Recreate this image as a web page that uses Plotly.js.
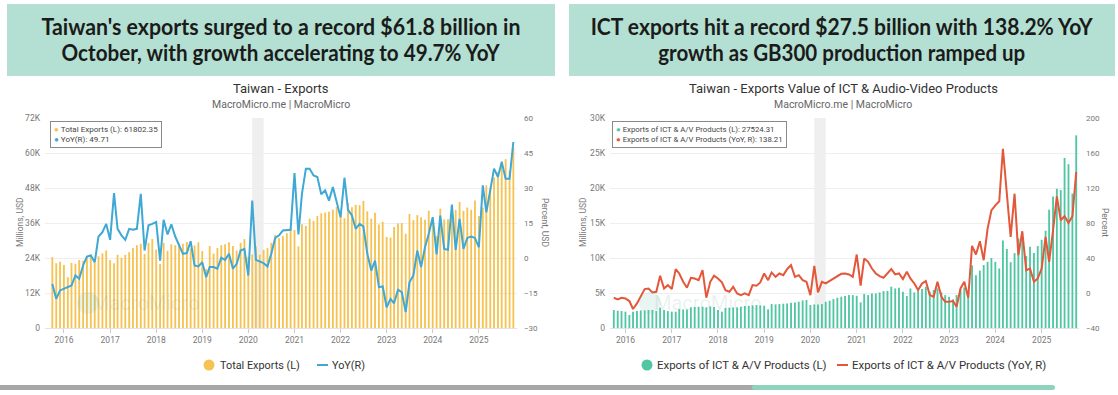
<!DOCTYPE html>
<html><head><meta charset="utf-8">
<script src="https://cdn.plot.ly/plotly-3.0.1.min.js"></script>
<style>
body{margin:0;width:1118px;height:395px;overflow:hidden;background:#fff;position:relative;font-family:Roboto,sans-serif}
.hdr{position:absolute;top:4px;height:72px;background:#b3e0d2}
.ln{position:absolute;left:0;right:0;text-align:center;font-family:Lato,sans-serif;font-weight:700;font-size:22px;line-height:26px;color:#1b1b1b;white-space:nowrap}
.ln span{display:inline-block;transform-origin:center center}
#c1{position:absolute;left:0;top:76px;width:560px;height:300px}
#c2{position:absolute;left:560px;top:76px;width:558px;height:300px}
.sb{position:absolute;top:385px;height:5px;border-radius:3px}
</style></head><body>
<div class="hdr" style="left:7px;width:548px">
  <div class="ln" style="top:10px"><span data-w="479">Taiwan's exports surged to a record $61.8 billion in</span></div>
  <div class="ln" style="top:36px"><span data-w="438">October, with growth accelerating to 49.7% YoY</span></div>
</div>
<div class="hdr" style="left:569px;width:546px">
  <div class="ln" style="top:10px"><span data-w="502">ICT exports hit a record $27.5 billion with 138.2% YoY</span></div>
  <div class="ln" style="top:36px"><span data-w="367">growth as GB300 production ramped up</span></div>
</div>
<div id="c1"></div>
<div id="c2"></div>
<div class="sb" style="left:0;width:760px;background:#a7a7a7;border-radius:0 3px 3px 0"></div>
<div class="sb" style="left:752px;width:303px;background:#8dd3be"></div>
<script>
// ---------- data ----------
const startYear = 2015, startMonth = 10, nMonths = 121;
const months = [];
for (let i = 0; i < nMonths; i++) {
  const t = startMonth - 1 + i;
  months.push((startYear + Math.floor(t / 12)) + '-' + String(t % 12 + 1).padStart(2, '0') + '-01');
}

const totalExports = [24300,22200,22700,
21600,17400,22300,22000,23300,23100,24400,25200,22700,24600,25600,26600,
23300,22200,25100,24100,25100,26000,27400,28400,28900,25400,29200,30500,
26900,22000,29200,26500,28700,28400,28900,28900,29500,27200,28300,29400,
26400,20200,28100,25500,27400,28400,28700,29400,28100,26500,29200,30500,
24400,25200,27900,25100,26800,27400,29200,31900,30800,31500,32500,34200,
33600,28000,35600,35000,37500,36700,38400,39300,39600,39900,40600,41500,
39500,37600,42900,41400,42200,42100,43600,40000,37500,39500,35500,36400,
31200,31000,34600,35800,36000,32300,39100,37000,38700,38000,37100,40200,
36700,31500,40900,37200,37300,39700,40500,43200,40200,41300,40500,43700,
38400,41300,48900,48000,51600,53500,57100,57900,53900,61802.35];

const totalYoY = [-11.1,-17.5,-13.9,
-13.2,-12.5,-11.8,-7.5,-8.9,-3.2,0.6,1.1,-1.8,9.2,11.1,14.6,
7.8,27.8,12.5,9.7,7.8,12.5,12.1,12.5,27.5,3.2,14.0,14.6,
15.4,-1.1,16.4,10.1,14.4,9.2,5.4,1.8,2.1,7.2,-3.2,-3.6,
-1.8,-8.2,-3.9,-3.9,-4.6,0.1,-0.8,1.8,-4.6,-2.5,3.2,3.9,
-7.5,24.6,-0.8,-1.4,-2.2,-3.6,1.8,8.6,9.7,11.8,11.8,12.1,
36.4,10.1,27.5,38.3,38.3,35.4,34.7,27.3,29.0,24.6,30.4,23.9,
17.5,34.4,20.6,18.2,12.5,14.6,13.5,1.8,-5.4,-1.1,-12.5,-12.2,
-21.1,-17.5,-19.4,-13.6,-14.6,-23.2,-10.4,-7.5,3.2,-3.9,4.6,10.4,
17.5,1.5,18.2,3.9,3.5,22.9,3.5,16.8,3.9,8.6,9.2,8.6,
4.6,31.1,19.6,29.0,38.3,34.7,41.1,34.0,34.0,49.71];

const ictExports = [2570,2470,2420,
2330,1850,2330,2420,2520,2520,2570,2570,2420,2900,2570,2420,
2330,2330,2700,2650,2650,2950,3000,3040,3040,2950,3090,3000,
2570,2330,2850,2900,2950,2950,3040,3140,3180,3230,3280,3230,
3180,2660,3420,3370,3420,3470,3500,3610,3660,3750,3940,4000,
3280,3370,3370,3420,3750,3900,4130,4320,4470,4560,4700,4700,
4600,3660,4850,4700,4940,4940,5080,5270,5300,5900,5650,5750,
5180,4560,5650,5080,5270,5560,5900,5180,5420,5650,5080,4700,
4470,4100,4700,5500,5800,5200,8950,7550,8200,9000,9450,10000,
9450,8500,12500,11300,9400,10700,12800,12900,10300,11600,10700,11700,
12600,13900,16900,18800,19900,19700,24300,23400,19200,27524.31];

const ictYoY = [-5.4,-7.3,-5.4,
-6.2,-9.2,-18.3,-11.9,-4.3,4.5,5.2,0.7,1.4,19.7,5.2,9.0,
4.5,27.3,22.3,12.8,6.0,17.4,16.6,14.7,26.1,-5.4,12.8,19.7,
16.6,12.1,3.3,1.4,7.1,-0.5,-2.4,-0.5,-2.4,9.0,8.3,12.1,
22.3,14.7,23.5,18.5,22.3,20.4,27.3,31.8,18.5,20.4,14.7,12.8,
-2.4,31.1,0.7,12.8,10.9,13.6,16.6,19.7,21.9,22.3,21.2,18.5,
44.0,8.3,39.4,35.6,28.0,22.3,19.3,17.4,22.3,27.3,21.2,22.3,
15.9,24.2,16.6,10.9,3.3,10.9,13.6,-2.4,-4.3,12.8,-4.3,-10.0,
-10.0,-9.2,-15.7,5.2,12.8,-5.4,53.9,44.0,59.2,37.5,73.6,94.5,
100.2,104.8,164.8,113.5,64.1,113.5,43.2,70.6,26.1,28.0,12.8,16.6,
28.0,64.1,35.6,71.7,110.5,83.1,87.7,80.1,87.7,138.21];

const leftTicks1 = [0,12000,24000,36000,48000,60000,72000];
const leftTickText1 = ['0','12K','24K','36K','48K','60K','72K'];
const rightTicks1 = [-30,-15,0,15,30,45,60];
const leftTicks2 = [0,5000,10000,15000,20000,25000,30000];
const leftTickText2 = ['0','5K','10K','15K','20K','25K','30K'];
const rightTicks2 = [-40,0,40,80,120,160,200];
const yearTicks = ['2016-01-01','2017-01-01','2018-01-01','2019-01-01','2020-01-01','2021-01-01','2022-01-01','2023-01-01','2024-01-01','2025-01-01'];
const yearText = ['2016','2017','2018','2019','2020','2021','2022','2023','2024','2025'];
const recession = ['2020-02-01','2020-05-01'];

// ---------- header fit ----------
document.querySelectorAll('.ln span').forEach(s => {
  const w = s.getBoundingClientRect().width;
  s.style.transform = 'scaleX(' + (parseFloat(s.dataset.w) / w) + ')';
});

// ---------- text fitting helper (font size to reach a pixel width) ----------
const FONT = 'Roboto, "Liberation Sans", sans-serif';
const mctx = document.createElement('canvas').getContext('2d');
function fitSize(text, target, lo, hi) {
  mctx.font = '20px ' + FONT;
  const w = mctx.measureText(text).width;
  const s = 20 * target / w;
  return Math.max(lo, Math.min(hi, s));
}

// ---------- chart builder ----------
function build(div, cfg) {
  const c = cfg.geom;
  const PX = xa => (xa - c.left - c.ml) / c.pw;
  const PY = ya => (c.top + c.mt + c.ph - ya) / c.ph;
  const ann = (xa, ya, text, extra) => Object.assign({xref:'paper', yref:'paper', x:PX(xa), y:PY(ya), text, showarrow:false,
    xanchor:'center', yanchor:'middle', font:{family:FONT,size:9,color:'#666'}}, extra||{});
  const last = cfg.bars.length - 1;
  const traces = [
    {type:'bar', x:months, y:cfg.bars, name:cfg.barName, marker:{color:cfg.barColor}, hoverinfo:'skip'},
    {type:'scatter', mode:'lines', x:months, y:cfg.line, yaxis:'y2', name:cfg.lineName, line:{color:cfg.lineColor, width:2}}
  ];
  const L = cfg.leg, ly = 365;
  const wmY = 303;
  const boxLine1 = cfg.barName + ': ' + cfg.bars[last];
  const boxLine2 = cfg.lineName + ': ' + cfg.line[last];
  const longest = boxLine1.length > boxLine2.length ? boxLine1 : boxLine2;
  const boxFont = fitSize('● ' + longest, cfg.boxW - 8, 6.5, 9.5);
  const leg1 = fitSize(cfg.barName, L.w1, 9, 13);
  const leg2 = fitSize(cfg.lineName, L.w2, 9, 13);
  const legFont = (cfg.barName.length > 10) ? (leg1 + leg2) / 2 : leg1;
  const layout = {
    width: c.w, height: 300,
    margin: {l:c.ml, r:c.w - c.ml - c.pw, t:c.mt, b:300 - c.mt - c.ph, pad:0},
    paper_bgcolor:'rgba(0,0,0,0)', plot_bgcolor:'#fff',
    bargap: 0.48,
    font:{family:FONT, color:'#666'},
    showlegend:false,
    xaxis:{type:'date', range:cfg.xrange, tickvals:yearTicks, ticktext:yearText, ticks:'outside', ticklen:4, tickcolor:'#ccc',
      showgrid:false, showline:true, linecolor:'#e3e3e3', tickfont:{size:8.5, color:'#777'}, automargin:false},
    yaxis:{range:[cfg.leftTicks[0], cfg.leftTicks[6]], tickvals:cfg.leftTicks, ticktext:cfg.leftText, gridcolor:'#eeeeee', gridwidth:1,
      zeroline:false, showline:false, tickfont:{size:8.5, color:'#777'}, ticklabelstandoff:4, automargin:false},
    yaxis2:{overlaying:'y', side:'right', range:[cfg.rightTicks[0], cfg.rightTicks[6]], tickvals:cfg.rightTicks, showgrid:false,
      zeroline:false, showline:false, tickfont:{size:8, color:'#777'}, ticklabelstandoff:6, automargin:false},
    shapes:[
      {type:'rect', xref:'x', yref:'paper', x0:recession[0], x1:recession[1], y0:0, y1:1, fillcolor:'#efefef', line:{width:0}, layer:'below'},
      {type:'circle', xref:'paper', yref:'paper', x0:PX(cfg.wmX - 69), x1:PX(cfg.wmX - 47), y0:PY(wmY + 11), y1:PY(wmY - 11),
        fillcolor:'rgba(120,190,175,0.16)', line:{width:0}, layer:'above'},
      // legend symbols
      {type:'circle', xref:'paper', yref:'paper', x0:PX(L.c - 5.5), x1:PX(L.c + 5.5), y0:PY(ly + 5.5), y1:PY(ly - 5.5),
        fillcolor:cfg.barColor, line:{width:0}},
      {type:'line', xref:'paper', yref:'paper', x0:PX(L.l0), x1:PX(L.l0 + 11), y0:PY(ly), y1:PY(ly),
        line:{color:cfg.lineColor, width:2}}
    ],
    annotations:[
      ann(cfg.cx, 88, cfg.title, {font:{family:FONT, size:13, color:'#333'}}),
      ann(cfg.cx, 104, 'MacroMicro.me | MacroMicro', {font:{family:FONT, size:10.5, color:'#666'}}),
      ann(cfg.ltX, 222, 'Millions, USD', {textangle:-90, font:{family:FONT, size:8.5, color:'#777'}}),
      ann(cfg.rtX, 222, cfg.rightTitle, {textangle:90, font:{family:FONT, size:8.5, color:'#777'}}),
      ann(L.t1, ly, cfg.barName, {xanchor:'left', font:{family:FONT, size:legFont, color:'#333'}}),
      ann(L.t2, ly, cfg.lineName, {xanchor:'left', font:{family:FONT, size:legFont, color:'#333'}}),
      {xref:'paper', yref:'paper', x:PX(cfg.boxX), y:PY(cfg.boxY), xanchor:'left', yanchor:'top', showarrow:false, align:'left',
        bgcolor:'rgba(255,255,255,0.95)', bordercolor:'#8a8a8a', borderwidth:1, borderpad:3,
        font:{family:FONT, size:boxFont, color:'#444'},
        text:'<span style="color:' + cfg.barColor + '">●</span> ' + boxLine1 +
             '<br><span style="color:' + cfg.lineColor + '">●</span> ' + boxLine2},
      ann(cfg.wmX, wmY, 'MacroMicro', {font:{family:FONT, size:20, color:'rgba(120,170,160,0.16)'}})
    ]
  };
  Plotly.newPlot(div, traces, layout, {staticPlot:true, displayModeBar:false});
}

build('c1', {
  geom:{left:0, top:76, w:560, ml:45, mt:42, pw:472, ph:210},
  bars: totalExports, line: totalYoY,
  barName:'Total Exports (L)', lineName:'YoY(R)',
  barColor:'#f6c352', lineColor:'#3fa8d4',
  leftTicks:leftTicks1, leftText:leftTickText1, rightTicks:rightTicks1,
  xrange:['2015-08-04','2025-10-30'],
  title:'Taiwan - Exports', rightTitle:'Percent, USD',
  cx:281, ltX:20, rtX:545, boxX:50, boxY:121, boxW:112, wmX:146,
  leg:{c:209, t1:218, w1:80, l0:317, t2:330, w2:33}
});
build('c2', {
  geom:{left:560, top:76, w:558, ml:50, mt:42, pw:469, ph:210},
  bars: ictExports, line: ictYoY,
  barName:'Exports of ICT & A/V Products (L)', lineName:'Exports of ICT & A/V Products (YoY, R)',
  barColor:'#50c6a2', lineColor:'#e3573b',
  leftTicks:leftTicks2, leftText:leftTickText2, rightTicks:rightTicks2,
  xrange:['2015-09-01','2025-10-23'],
  title:'Taiwan - Exports Value of ICT &amp; Audio-Video Products', rightTitle:'Percent',
  cx:843, ltX:583, rtX:1105, boxX:612, boxY:121, boxW:175, wmX:708,
  leg:{c:647, t1:655, l0:837, t2:850, w1:169, w2:196}
});
</script>
</body></html>
